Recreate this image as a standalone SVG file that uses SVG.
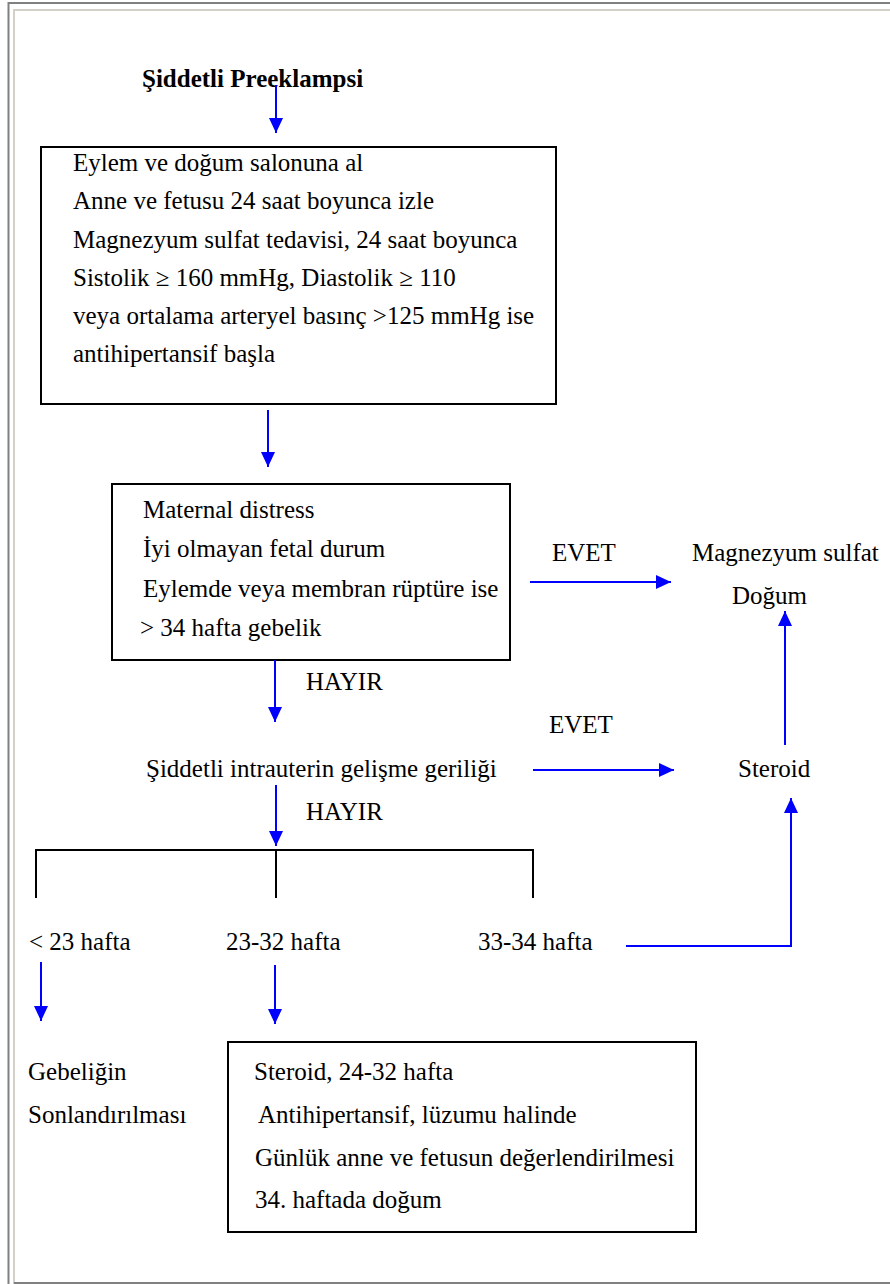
<svg xmlns="http://www.w3.org/2000/svg" width="890" height="1284" viewBox="0 0 890 1284">
<style>
text{font-family:"Liberation Serif","Times New Roman","DejaVu Serif",serif;font-size:25px;fill:#000}
.b{font-weight:bold}
.box{fill:none;stroke:#000;stroke-width:2}
.ln{fill:none;stroke:#0000ff;stroke-width:2}
.blk{fill:none;stroke:#000;stroke-width:2}
</style>
<defs>
<marker id="a" viewBox="0 0 15 14" refX="15" refY="7" markerWidth="15" markerHeight="14" markerUnits="userSpaceOnUse" orient="auto">
<path d="M0,0 L15,7 L0,14 z" fill="#0000ff"/>
</marker>
</defs>
<rect width="890" height="1284" fill="#fff"/>
<path d="M8.5,1284 V3 H890" fill="none" stroke="#808080" stroke-width="2"/>
<path d="M14,1284 V10 H890" fill="none" stroke="#d4d0c8" stroke-width="2"/>
<line x1="14" y1="1283" x2="890" y2="1283" stroke="#808080" stroke-width="2"/>

<g id="title"><text class="b" x="142" y="87">Şiddetli Preeklampsi</text></g>

<g id="box1">
<rect class="box" x="41" y="147" width="515" height="257"/>
<text x="73" y="171">Eylem ve doğum salonuna al</text>
<text x="73" y="209">Anne ve fetusu 24 saat boyunca izle</text>
<text x="73" y="248">Magnezyum sulfat tedavisi, 24 saat boyunca</text>
<text x="73" y="286">Sistolik ≥ 160 mmHg, Diastolik ≥ 110</text>
<text x="73" y="324">veya ortalama arteryel basınç &gt;125 mmHg ise</text>
<text x="73" y="362">antihipertansif başla</text>
</g>

<g id="box2">
<rect class="box" x="112" y="484" width="398" height="176"/>
<text x="143" y="518">Maternal distress</text>
<text x="143" y="557">İyi olmayan fetal durum</text>
<text x="143" y="597">Eylemde veya membran rüptüre ise</text>
<text x="140" y="636">&gt; 34 hafta gebelik</text>
</g>

<g id="magdogum">
<text x="692" y="561">Magnezyum sulfat</text>
<text x="732" y="604">Doğum</text>
</g>

<g id="iugr"><text x="146" y="777">Şiddetli intrauterin gelişme geriliği</text></g>
<g id="steroid"><text x="738" y="777">Steroid</text></g>

<g id="w1"><text x="29" y="950">&lt; 23 hafta</text></g>
<g id="w2"><text x="226" y="950">23-32 hafta</text></g>
<g id="w3"><text x="478" y="950">33-34 hafta</text></g>

<g id="termination">
<text x="28" y="1080">Gebeliğin</text>
<text x="28" y="1123">Sonlandırılması</text>
</g>

<g id="box3">
<rect class="box" x="228" y="1042" width="468" height="190"/>
<text x="254" y="1080">Steroid, 24-32 hafta</text>
<text x="258" y="1123">Antihipertansif, lüzumu halinde</text>
<text x="255" y="1166">Günlük anne ve fetusun değerlendirilmesi</text>
<text x="255" y="1208">34. haftada doğum</text>
</g>

<g id="labels">
<text x="552" y="561">EVET</text>
<text x="306" y="690">HAYIR</text>
<text x="549" y="733">EVET</text>
<text x="306" y="820">HAYIR</text>
</g>

<g id="connectors">
<line class="ln" x1="276" y1="85" x2="276" y2="133" marker-end="url(#a)"/>
<line class="ln" x1="268" y1="410" x2="268" y2="467" marker-end="url(#a)"/>
<line class="ln" x1="530" y1="582" x2="671" y2="582" marker-end="url(#a)"/>
<line class="ln" x1="785" y1="745" x2="785" y2="611" marker-end="url(#a)"/>
<line class="ln" x1="275" y1="660" x2="275" y2="722" marker-end="url(#a)"/>
<line class="ln" x1="533" y1="770" x2="674" y2="770" marker-end="url(#a)"/>
<line class="ln" x1="276" y1="785" x2="276" y2="846" marker-end="url(#a)"/>
<path class="blk" d="M36,898 V850 H533 V898 M276,850 V898"/>
<polyline class="ln" points="626,946 791,946 791,798" marker-end="url(#a)"/>
<line class="ln" x1="41" y1="962" x2="41" y2="1021" marker-end="url(#a)"/>
<line class="ln" x1="275" y1="965" x2="275" y2="1024" marker-end="url(#a)"/>
</g>
</svg>
